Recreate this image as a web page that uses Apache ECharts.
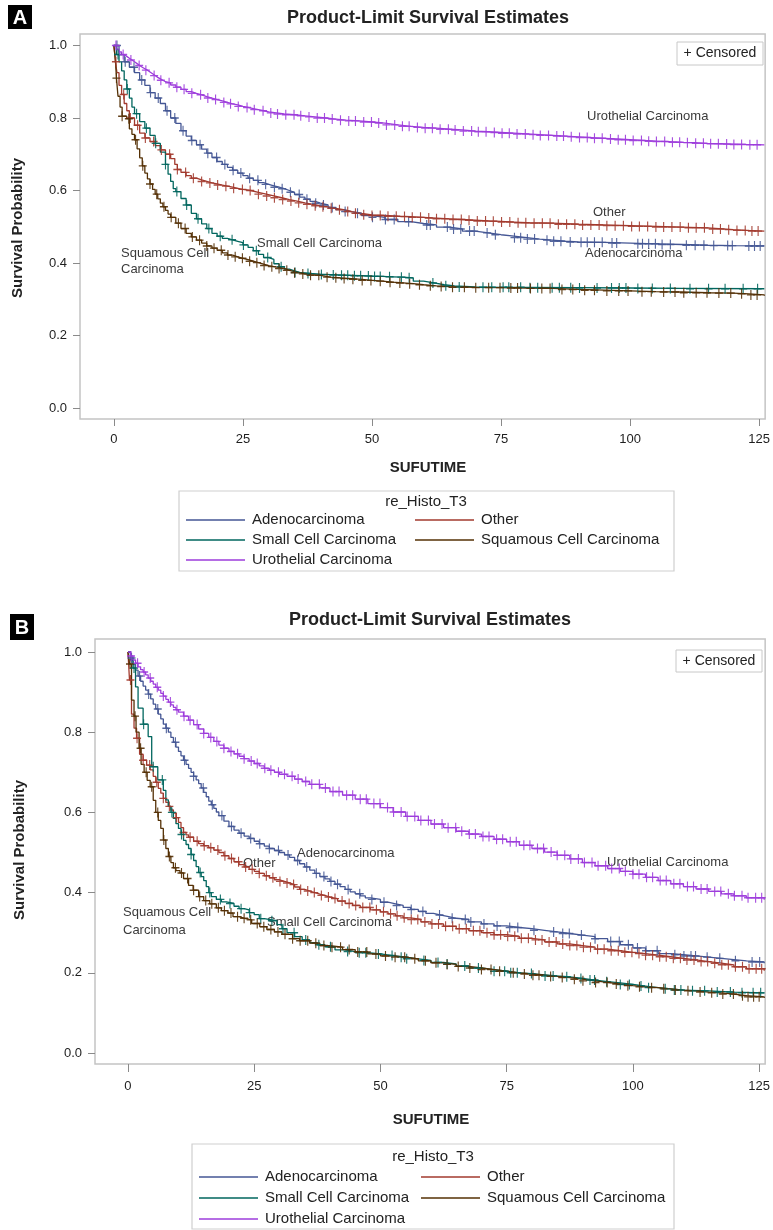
<!DOCTYPE html>
<html><head><meta charset="utf-8">
<script src="https://cdn.jsdelivr.net/npm/echarts@6/dist/echarts.min.js"></script>
<style>html,body{margin:0;padding:0;background:#fff}#c{width:773px;height:1230px}</style>
</head><body><div id="c"></div>
<script>
// ---------- data ----------
const groups = ['Adenocarcinoma','Other','Small Cell Carcinoma','Squamous Cell Carcinoma','Urothelial Carcinoma'];
const xTicks = [0,25,50,75,100,125];
const yTicks = [0,0.2,0.4,0.6,0.8,1.0];
const panelTitle = 'Product-Limit Survival Estimates';
const xTitle = 'SUFUTIME';
const yTitle = 'Survival Probability';
const legendTitle = 're_Histo_T3';

// Panel A: Kaplan-Meier steps [time, survival]
const adenoA = [[0,1],[1,0.975],[2,0.955],[3,0.94],[4,0.925],[5,0.905],[6,0.89],[7,0.87],[8,0.855],[9,0.84],[10,0.82],[11,0.80],[12,0.785],[13,0.765],[14,0.75],[15,0.738],[16,0.726],[17,0.714],[18,0.703],[19,0.691],[20,0.68],[21,0.672],[22,0.664],[23,0.656],[24,0.648],[25,0.641],[26,0.634],[27,0.628],[28,0.622],[29,0.617],[30,0.613],[31,0.609],[32,0.605],[33,0.6],[34,0.595],[35,0.589],[36,0.582],[37,0.576],[38,0.57],[39,0.565],[40,0.56],[41.5,0.553],[43,0.547],[44.5,0.542],[46,0.537],[48,0.531],[50,0.526],[52.5,0.52],[55,0.514],[57.5,0.509],[60,0.505],[62.5,0.499],[65,0.494],[67.5,0.488],[70,0.483],[72.5,0.478],[75,0.474],[77.5,0.47],[80,0.466],[82.5,0.463],[85,0.46],[87.5,0.458],[90,0.457],[95,0.455],[100,0.453],[105,0.451],[110,0.449],[115,0.448],[120,0.447],[126,0.447]];
const otherA = [[0,1],[0.3,0.955],[0.6,0.925],[1,0.89],[1.5,0.865],[2,0.84],[2.5,0.82],[3,0.80],[4,0.78],[5,0.758],[6,0.745],[7,0.735],[8,0.724],[9,0.712],[10,0.70],[11,0.688],[11.8,0.672],[12.3,0.658],[13,0.65],[14,0.641],[15,0.634],[16,0.629],[17,0.625],[18,0.621],[19,0.618],[20,0.615],[21,0.612],[22,0.609],[23,0.606],[24,0.603],[25,0.6],[26.5,0.595],[28,0.59],[29.5,0.585],[31,0.58],[32.5,0.575],[34,0.571],[35.5,0.566],[37,0.562],[38.5,0.558],[40,0.555],[41.5,0.551],[43,0.547],[44.5,0.542],[46,0.537],[48,0.533],[50,0.531],[52.5,0.529],[55,0.528],[57.5,0.526],[60,0.524],[62.5,0.522],[65,0.52],[67.5,0.518],[70,0.516],[72.5,0.515],[75,0.513],[77.5,0.511],[80,0.51],[85,0.507],[90,0.505],[95,0.503],[100,0.501],[105,0.499],[110,0.497],[115,0.494],[118,0.492],[120,0.49],[122.5,0.488],[126,0.487]];
const smallA = [[0,1],[0.5,0.975],[1,0.955],[1.5,0.93],[2,0.905],[2.5,0.88],[3,0.855],[3.5,0.83],[4,0.812],[5,0.79],[6,0.772],[7,0.752],[8,0.73],[9,0.706],[10,0.672],[10.5,0.645],[11,0.625],[11.5,0.605],[12,0.597],[13,0.578],[14,0.56],[15,0.537],[16,0.522],[17,0.508],[18,0.495],[19,0.482],[20,0.474],[21,0.468],[22,0.464],[23,0.46],[24,0.456],[25,0.45],[26,0.443],[27,0.434],[28,0.424],[29,0.415],[30,0.41],[31,0.398],[32,0.39],[33,0.383],[34,0.378],[35,0.374],[36,0.371],[38,0.369],[40,0.368],[42,0.367],[44,0.366],[46,0.365],[48,0.364],[50,0.363],[52,0.362],[54,0.361],[56,0.359],[58,0.35],[60,0.345],[62,0.34],[64,0.337],[66,0.334],[70,0.333],[75,0.333],[80,0.332],[90,0.331],[100,0.33],[110,0.329],[126,0.328]];
const squamA = [[0,1],[0.3,0.96],[0.5,0.91],[0.8,0.86],[1.2,0.83],[1.6,0.805],[2.5,0.798],[3,0.77],[3.5,0.755],[4,0.74],[4.5,0.715],[5,0.69],[5.5,0.668],[6,0.648],[6.5,0.632],[7,0.618],[7.5,0.603],[8,0.59],[8.5,0.577],[9,0.565],[9.5,0.555],[10,0.545],[10.5,0.535],[11,0.526],[12,0.51],[13,0.495],[14,0.482],[15,0.472],[16,0.463],[17,0.455],[18,0.447],[19,0.441],[20,0.435],[21,0.428],[22,0.422],[23,0.417],[24,0.413],[25,0.409],[26,0.405],[27,0.401],[28,0.397],[29,0.393],[30,0.39],[31,0.388],[32,0.385],[33,0.38],[34,0.376],[35,0.373],[36,0.37],[37,0.368],[38,0.366],[40,0.361],[42,0.359],[44,0.357],[46,0.355],[48,0.352],[50,0.35],[52,0.347],[54,0.345],[56,0.343],[58,0.34],[60,0.337],[62.5,0.335],[65,0.333],[70,0.332],[75,0.331],[80,0.33],[85,0.327],[90,0.325],[95,0.323],[100,0.321],[105,0.32],[110,0.318],[115,0.317],[120,0.315],[123,0.312],[126,0.31]];
const uroA = [[0,1],[0.5,0.99],[1,0.982],[1.5,0.975],[2,0.97],[2.5,0.965],[3,0.96],[3.5,0.955],[4,0.95],[4.5,0.945],[5,0.94],[5.5,0.936],[6,0.932],[6.5,0.927],[7,0.922],[7.5,0.917],[8,0.912],[8.5,0.908],[9,0.904],[9.5,0.9],[10,0.897],[11,0.891],[12,0.885],[13,0.879],[14,0.873],[15,0.868],[16,0.864],[17,0.859],[18,0.855],[19,0.851],[20,0.847],[21,0.843],[22,0.839],[23,0.836],[24,0.832],[25,0.829],[26,0.826],[27,0.823],[28,0.82],[29,0.817],[30,0.814],[31.5,0.811],[33,0.809],[35,0.806],[37,0.803],[39,0.8],[41,0.797],[43,0.794],[45,0.792],[47.5,0.789],[50,0.786],[52.5,0.781],[55,0.777],[57.5,0.774],[60,0.772],[62.5,0.769],[65,0.767],[67.5,0.764],[70,0.762],[72.5,0.76],[75,0.758],[77.5,0.756],[80,0.754],[82.5,0.752],[85,0.75],[87.5,0.748],[90,0.746],[92.5,0.744],[95,0.742],[97.5,0.74],[100,0.738],[102.5,0.736],[105,0.735],[107.5,0.733],[110,0.732],[112.5,0.73],[115,0.729],[117.5,0.728],[120,0.727],[122.5,0.726],[126,0.725]];

// Panel A censoring times
const censAdenoA = [0.6,2.2,3.9,5.4,7.1,8.6,10.3,11.8,13.4,15.1,16.7,18.2,19.9,21.5,23.1,24.6,26.3,27.9,29.4,31.1,32.6,34.2,35.9,37.4,39.1,40.6,42.3,44.8,47.2,50.1,52.6,54.3,57.1,60.6,61.3,64.6,65.8,67.2,68.9,69.8,72.3,73.9,77.6,78.8,80.1,81.5,83.9,85.2,86.6,88.4,90.5,91.7,93.1,94.6,96.5,97.4,101.5,102.4,103.6,104.9,106.2,107.8,110.9,112.6,114.3,116.2,118.9,119.8,123.0,124.1,125.2];
const censOtherA = [0.4,1.9,3.2,4.6,6.1,7.7,9.2,10.8,12.3,13.9,15.4,17.0,18.6,20.1,21.7,23.2,24.9,26.4,28.0,29.6,31.1,32.7,34.3,35.8,37.4,39.0,40.5,42.1,43.7,45.3,46.8,48.4,50.0,51.6,53.1,54.7,56.3,57.8,59.4,61.0,62.5,64.1,65.7,67.3,68.8,70.4,72.0,73.5,75.1,76.7,78.3,79.8,81.4,83.0,84.5,86.1,87.7,89.3,90.8,92.4,94.0,95.5,97.1,98.7,100.3,101.8,103.4,105.0,106.5,108.1,109.7,111.3,112.8,114.4,116.0,117.5,119.1,120.7,122.3,123.6,124.8];
const censSmallA = [0.8,2.6,4.4,6.3,8.1,10.0,12.2,14.1,16.3,18.4,20.6,22.9,25.1,27.6,29.8,32.4,35.1,37.6,40.2,42.5,44.1,45.3,46.6,47.8,49.3,50.5,51.6,53.4,55.7,57.2,61.8,64.3,66.9,71.5,73.2,75.4,76.5,78.8,80.6,82.1,84.9,86.3,88.5,90.2,93.6,96.4,97.9,99.2,101.5,104.3,107.8,111.6,115.2,118.4,121.9,124.7];
const censSquamA = [0.5,1.6,2.9,4.2,5.6,7.0,8.3,9.7,11.1,12.5,13.8,15.2,16.6,18.0,19.4,20.8,22.1,23.5,24.9,26.3,27.7,29.1,30.6,32.0,33.5,35.0,36.6,38.1,39.7,41.3,43.0,44.6,46.3,48.1,49.8,51.6,53.5,55.4,57.3,59.2,61.3,63.4,65.6,67.9,70.1,72.6,74.8,76.9,78.2,80.7,82.9,84.5,86.8,88.9,91.2,93.1,95.5,97.8,99.6,102.3,104.1,106.5,108.7,110.4,112.8,114.9,117.2,119.5,121.6,123.4,124.6];
const censUroA = [0.4,1.8,3.3,4.9,6.2,7.8,9.1,10.7,12.2,13.6,15.1,16.8,18.2,19.7,21.3,22.6,24.1,25.8,27.2,28.9,30.4,31.7,33.3,34.9,36.2,37.8,39.4,40.8,42.3,43.9,45.5,46.8,48.4,49.9,51.3,52.8,54.4,55.9,57.2,58.8,60.3,61.7,63.2,64.8,66.1,67.7,69.3,70.6,72.1,73.7,75.2,76.6,78.1,79.7,81.2,82.6,84.2,85.8,87.1,88.6,90.2,91.7,93.1,94.6,96.2,97.7,99.1,100.6,102.2,103.6,105.1,106.7,108.2,109.6,111.1,112.7,114.2,115.6,117.1,118.7,120.1,121.6,123.2,124.6];

// Panel B: Kaplan-Meier steps [time, survival]
const adenoB = [[0,1],[0.5,0.985],[1,0.97],[1.5,0.955],[2,0.94],[2.5,0.927],[3,0.915],[3.5,0.905],[4,0.895],[4.5,0.883],[5,0.87],[5.5,0.858],[6,0.845],[6.5,0.833],[7,0.82],[7.5,0.81],[8,0.8],[8.5,0.787],[9,0.775],[9.5,0.763],[10,0.752],[10.5,0.741],[11,0.73],[11.5,0.72],[12,0.71],[12.5,0.7],[13,0.69],[13.5,0.681],[14,0.672],[14.5,0.661],[15,0.65],[15.5,0.639],[16,0.628],[16.5,0.619],[17,0.61],[17.5,0.601],[18,0.592],[19,0.578],[20,0.565],[21,0.556],[22,0.548],[23,0.541],[24,0.535],[25,0.528],[26,0.522],[27,0.516],[28,0.51],[29,0.505],[30,0.5],[31,0.494],[32,0.488],[33,0.48],[34,0.472],[35,0.464],[36,0.456],[37,0.448],[38,0.44],[39,0.434],[40,0.428],[41,0.421],[42,0.415],[43,0.408],[44,0.402],[45,0.397],[46,0.392],[47,0.387],[48,0.383],[50,0.376],[51.5,0.372],[53,0.368],[54.5,0.363],[56,0.358],[57.5,0.353],[59,0.348],[60.5,0.344],[62,0.34],[63.5,0.336],[65,0.333],[67.5,0.327],[70,0.322],[72.5,0.317],[75,0.313],[77.5,0.31],[80,0.306],[82.5,0.302],[85,0.298],[87.5,0.294],[90,0.29],[92.5,0.285],[95,0.278],[97.5,0.27],[100,0.262],[102.5,0.255],[105,0.248],[107.5,0.245],[110,0.242],[112.5,0.239],[115,0.236],[117.5,0.233],[120,0.23],[122.5,0.227],[126,0.224]];
const otherB = [[0,1],[0.3,0.93],[0.7,0.845],[1.2,0.81],[1.7,0.785],[2.3,0.745],[3,0.73],[3.7,0.718],[4.4,0.706],[5,0.69],[5.5,0.675],[6,0.66],[6.5,0.648],[7,0.635],[7.5,0.625],[8,0.615],[8.5,0.606],[9,0.598],[9.5,0.587],[10,0.575],[10.5,0.562],[11,0.55],[11.5,0.544],[12,0.538],[13,0.528],[14,0.522],[15,0.517],[16,0.512],[17,0.506],[18,0.5],[19,0.492],[20,0.485],[21,0.477],[22,0.47],[23,0.464],[24,0.458],[25,0.453],[26,0.448],[27,0.442],[28,0.437],[29,0.432],[30,0.428],[31,0.424],[32,0.42],[33,0.414],[34,0.408],[35,0.404],[36,0.4],[37,0.396],[38,0.393],[39,0.389],[40,0.385],[41.5,0.379],[43,0.373],[44.5,0.368],[46,0.363],[48,0.357],[50,0.352],[51.5,0.347],[53,0.342],[54.5,0.337],[56,0.333],[58,0.327],[60,0.322],[62.5,0.316],[65,0.31],[67.5,0.305],[70,0.3],[72.5,0.295],[75,0.291],[77.5,0.286],[80,0.282],[82.5,0.277],[85,0.272],[87.5,0.268],[90,0.264],[92.5,0.259],[95,0.255],[97.5,0.251],[100,0.248],[102.5,0.244],[105,0.24],[107.5,0.236],[110,0.232],[112.5,0.228],[115,0.224],[117.5,0.22],[120,0.215],[122.5,0.21],[126,0.205]];
const smallB = [[0,1],[0.5,0.98],[1,0.96],[1.5,0.913],[2,0.86],[3,0.82],[4,0.789],[4.7,0.714],[5.9,0.681],[7,0.655],[7.5,0.631],[8,0.615],[8.5,0.6],[9,0.585],[9.5,0.572],[10,0.56],[10.5,0.545],[11,0.53],[11.5,0.52],[12,0.51],[12.5,0.495],[13,0.48],[13.5,0.465],[14,0.45],[14.5,0.44],[15,0.43],[15.5,0.415],[16,0.4],[16.5,0.39],[17.5,0.383],[18.5,0.377],[19.5,0.373],[21,0.366],[22,0.36],[23,0.357],[24,0.35],[25,0.345],[26,0.335],[27,0.332],[28.5,0.33],[29.5,0.32],[30.5,0.31],[31.5,0.3],[33,0.29],[34.5,0.282],[36,0.275],[37.5,0.27],[39,0.265],[41,0.257],[43,0.253],[45,0.25],[47.5,0.247],[50,0.243],[52.5,0.239],[55,0.235],[57.5,0.231],[60,0.226],[62.5,0.222],[65,0.217],[67.5,0.212],[70,0.208],[72.5,0.204],[75,0.2],[77.5,0.198],[80,0.195],[82.5,0.192],[85,0.19],[87.5,0.186],[90,0.182],[92.5,0.178],[95,0.175],[97.5,0.171],[100,0.167],[102.5,0.163],[105,0.16],[107.5,0.157],[110,0.155],[115,0.152],[120,0.15],[126,0.15]];
const squamB = [[0,1],[0.3,0.97],[0.7,0.88],[1.2,0.84],[1.6,0.8],[2.2,0.76],[2.6,0.72],[3.2,0.7],[3.8,0.68],[4.4,0.664],[5,0.63],[5.5,0.6],[6,0.58],[6.5,0.56],[7,0.531],[7.5,0.51],[8,0.49],[8.5,0.475],[9,0.462],[9.5,0.455],[10.3,0.449],[11,0.435],[12,0.418],[12.9,0.406],[14,0.39],[15,0.38],[16.2,0.372],[17.5,0.362],[18.5,0.355],[19.8,0.349],[20.8,0.34],[22,0.336],[23.1,0.332],[24.5,0.323],[26.1,0.315],[27.5,0.308],[29,0.302],[30.5,0.296],[32.6,0.285],[34,0.28],[36,0.274],[38,0.268],[40,0.264],[42.5,0.258],[45,0.252],[47.5,0.247],[50,0.242],[52.5,0.239],[55,0.235],[57.5,0.23],[60,0.225],[62.5,0.221],[65,0.216],[67.5,0.212],[70,0.208],[72.5,0.204],[75,0.2],[77.5,0.197],[80,0.194],[82.5,0.191],[85,0.188],[87.5,0.184],[90,0.18],[92.5,0.176],[95,0.172],[97.5,0.168],[100,0.165],[102.5,0.163],[105,0.16],[107.5,0.157],[110,0.155],[112.5,0.152],[115,0.15],[117.5,0.147],[120,0.143],[122.5,0.14],[126,0.137]];
const uroB = [[0,1],[0.5,0.99],[1,0.98],[1.5,0.972],[2,0.963],[2.5,0.956],[3,0.95],[3.5,0.943],[4,0.935],[4.5,0.927],[5,0.92],[5.5,0.912],[6,0.905],[6.5,0.897],[7,0.89],[7.5,0.882],[8,0.875],[8.5,0.868],[9,0.862],[9.5,0.856],[10,0.85],[11,0.84],[12,0.83],[13,0.819],[14,0.808],[15,0.797],[16,0.787],[17,0.777],[18,0.768],[19,0.76],[20,0.752],[21,0.746],[22,0.74],[23,0.734],[24,0.728],[25,0.722],[26,0.716],[27,0.71],[28,0.705],[29,0.7],[30,0.695],[31.5,0.69],[33,0.683],[34.5,0.677],[36,0.67],[38,0.661],[40,0.652],[42.5,0.643],[45,0.633],[47.5,0.622],[50,0.612],[52.5,0.601],[55,0.59],[57.5,0.58],[60,0.571],[62.5,0.562],[65,0.553],[67.5,0.546],[70,0.54],[72.5,0.533],[75,0.527],[77.5,0.518],[80,0.51],[82.5,0.501],[85,0.493],[87.5,0.484],[90,0.475],[92.5,0.467],[95,0.46],[97.5,0.453],[100,0.446],[102.5,0.438],[105,0.43],[107.5,0.422],[110,0.415],[112.5,0.409],[115,0.403],[117.5,0.397],[120,0.392],[122.5,0.387],[126,0.382]];

// Panel B censoring times
const censAdenoB = [0.7,2.3,4.1,5.9,7.6,9.4,11.2,13.0,14.9,16.7,18.6,20.5,22.4,24.3,26.1,28.0,29.8,31.7,33.6,35.4,37.3,38.8,40.2,41.5,43.6,45.9,48.3,50.7,53.2,56.1,58.4,61.7,64.2,66.8,67.9,70.5,73.1,75.6,77.2,80.4,84.3,86.1,87.4,89.8,92.5,95.6,97.3,99.1,100.9,102.6,104.8,108.3,110.1,111.5,112.4,114.7,117.2,120.3,123.6,125.1];
const censOtherB = [0.5,1.8,3.0,4.3,5.7,7.0,8.2,9.6,11.0,12.3,13.7,15.1,16.4,17.8,19.2,20.5,21.9,23.3,24.6,26.0,27.4,28.7,30.1,31.5,32.8,34.2,35.6,36.9,38.3,39.7,41.0,42.4,43.8,45.1,46.5,47.9,49.2,50.6,52.0,53.3,54.7,56.1,57.4,58.8,60.2,61.5,62.9,64.3,65.6,67.0,68.4,69.7,71.1,72.5,73.8,75.2,76.6,77.9,79.3,80.7,82.0,83.4,84.8,86.1,87.5,88.9,90.2,91.6,93.0,94.3,95.7,97.1,98.4,99.8,101.2,102.5,103.9,105.3,106.6,108.0,109.4,110.7,112.1,113.5,114.8,116.2,117.6,118.9,120.3,121.7,123.0,124.4,125.5];
const censSmallB = [1.2,3.1,5.0,6.8,8.7,10.6,12.5,14.3,16.2,18.3,20.2,22.4,24.1,26.3,28.5,30.7,32.9,35.2,37.8,40.1,43.5,45.8,47.1,49.6,52.3,54.1,55.2,58.6,61.4,63.2,66.7,69.4,72.5,74.6,75.8,77.1,79.9,82.6,84.2,86.9,89.7,91.5,92.4,94.8,97.5,99.3,101.6,103.1,106.4,108.2,109.5,111.8,114.2,116.7,119.3,121.6,123.8,125.3];
const censSquamB = [0.4,1.4,2.5,3.6,4.7,5.9,7.1,8.2,9.4,10.6,11.8,13.0,14.2,15.4,16.6,17.9,19.1,20.4,21.7,23.0,24.3,25.6,26.9,28.3,29.7,31.1,32.6,34.1,35.6,37.2,38.8,40.4,42.1,43.8,45.5,47.3,49.1,51.0,52.9,54.8,56.8,58.9,61.0,63.2,65.4,67.7,70.0,71.9,73.6,76.3,78.5,80.2,81.4,83.7,86.0,88.4,90.1,92.6,94.9,96.7,99.0,101.3,103.7,106.1,108.4,110.9,113.3,115.6,117.8,119.9,121.7,122.8,123.9,125.0];
const censUroB = [0.6,1.9,3.2,4.4,5.8,7.0,8.4,9.7,11.1,12.3,13.7,15.0,16.4,17.6,19.0,20.4,21.7,23.0,24.4,25.6,27.1,28.3,29.8,31.0,32.5,33.7,35.2,36.4,37.9,39.1,40.6,41.8,43.3,44.5,46.0,47.2,48.7,49.9,51.4,52.6,54.1,55.3,56.8,58.0,59.5,60.7,62.2,63.4,64.9,66.1,67.6,68.8,70.3,71.5,73.0,74.2,75.7,76.9,78.4,79.6,81.1,82.3,83.8,85.0,86.5,87.7,89.2,90.4,91.9,93.1,94.6,95.8,97.3,98.5,100.0,101.2,102.7,103.9,105.4,106.6,108.1,109.3,110.8,112.0,113.5,114.7,116.2,117.4,118.9,120.1,121.6,122.8,124.3,125.5];

// ---------- styling / layout ----------
const colors = ['#445694','#A23A2E','#01665E','#543005','#9D3CDB'];
const FONT = '"Liberation Sans", Arial, sans-serif';
const PLUS = 'path://M4.3,0 H5.7 V4.3 H10 V5.7 H5.7 V10 H4.3 V5.7 H0 V4.3 H4.3 Z';

const panels = [
  { curves:[adenoA,otherA,smallA,squamA,uroA], cens:[censAdenoA,censOtherA,censSmallA,censSquamA,censUroA],
    grid:{left:80,top:34,width:688,height:385}, xMin:-6.56, xMax:126.16, yMin:-0.0303, yMax:1.0317,
    xLabelMargin:14, tickLen:7 },
  { curves:[adenoB,otherB,smallB,squamB,uroB], cens:[censAdenoB,censOtherB,censSmallB,censSquamB,censUroB],
    grid:{left:95,top:639,width:671,height:425}, xMin:-6.53, xMax:126.19, yMin:-0.0274, yMax:1.0324,
    xLabelMargin:16, tickLen:8 }
];

function stepAt(curve, t){
  let s = curve[0][1];
  for (const p of curve){ if (p[0] <= t) s = p[1]; else break; }
  return s;
}

const grids = [], xAxes = [], yAxes = [], series = [];
panels.forEach((p, pi) => {
  grids.push(Object.assign({show:true, borderColor:'#c4c4c4', borderWidth:1.5, backgroundColor:'#fff'}, p.grid));
  xAxes.push({type:'value', gridIndex:pi, min:p.xMin, max:p.xMax, position:'bottom',
    axisLine:{show:false, onZero:false}, splitLine:{show:false},
    axisTick:{show:true, inside:false, length:p.tickLen, customValues:xTicks, lineStyle:{color:'#8a8a8a'}},
    axisLabel:{customValues:xTicks, color:'#1e1e1e', fontSize:13, fontFamily:FONT, margin:p.xLabelMargin}});
  yAxes.push({type:'value', gridIndex:pi, min:p.yMin, max:p.yMax, position:'left',
    axisLine:{show:false, onZero:false}, splitLine:{show:false},
    axisTick:{show:true, inside:false, length:7, customValues:yTicks, lineStyle:{color:'#8a8a8a'}},
    axisLabel:{customValues:yTicks, color:'#1e1e1e', fontSize:13, fontFamily:FONT, margin:13,
      formatter:v => v.toFixed(1)}});
  groups.forEach((g, gi) => {
    series.push({type:'line', name:g, xAxisIndex:pi, yAxisIndex:pi, data:p.curves[gi], step:'end',
      showSymbol:false, symbol:'none', silent:true, color:colors[gi],
      lineStyle:{width:1.3, color:colors[gi]}, emphasis:{disabled:true}, z:2});
    series.push({type:'scatter', name:g, xAxisIndex:pi, yAxisIndex:pi,
      data:p.cens[gi].map(t => [t, stepAt(p.curves[gi], t)]),
      symbol:PLUS, symbolSize:[8,10], silent:true, color:colors[gi],
      itemStyle:{color:colors[gi], opacity:0.9}, emphasis:{disabled:true}, z:3});
  });
});

function legendCol(names, left, top, lh){
  return {data:names, orient:'vertical', left:left, top:top, padding:0, itemGap:0,
    icon:'rect', itemWidth:59, itemHeight:1.6, selectedMode:false,
    textStyle:{fontFamily:FONT, fontSize:15, color:'#222', lineHeight:lh, padding:[0,0,0,2]}};
}
const legends = [
  legendCol([groups[0],groups[2],groups[4]], 186, 510, 20),
  legendCol([groups[1],groups[3]], 415, 510, 20),
  legendCol([groups[0],groups[2],groups[4]], 199, 1166.5, 21),
  legendCol([groups[1],groups[3]], 421, 1166.5, 21)
];

function txt(x, y, s, o, rot){
  const el = {type:'text', x:x, y:y, silent:true, style:Object.assign({text:s, fill:'#222', fontFamily:FONT, fontSize:13,
    textAlign:'left', textVerticalAlign:'middle'}, o||{})};
  if (rot) el.rotation = rot;
  return el;
}
function panelLabel(x, y, w, h, s){
  return [{type:'rect', shape:{x:x, y:y, width:w, height:h}, style:{fill:'#000'}, silent:true},
    txt(x+w/2, y+h/2+1, s, {fill:'#fff', fontSize:20, fontWeight:'bold', textAlign:'center'})];
}
function censBox(x, y, w, h){
  return [{type:'rect', shape:{x:x, y:y, width:w, height:h}, style:{fill:'#fff', stroke:'#c8c8c8', lineWidth:1}, silent:true, z:10},
    Object.assign(txt(x+w/2, y+h/2, '+ Censored', {fontSize:14, textAlign:'center'}), {z:11})];
}
const curveLbl = {fontSize:13, fill:'#3a3a3a'};
const graphics = [].concat(
  panelLabel(8, 5, 24, 24, 'A'),
  [txt(428, 18, panelTitle, {fontSize:18, fontWeight:'bold', textAlign:'center'})],
  censBox(677, 42, 86, 23),
  [txt(18, 228, yTitle, {fontSize:15, fontWeight:'bold', textAlign:'center'}, Math.PI/2)],
  [txt(428, 468, xTitle, {fontSize:15, fontWeight:'bold', textAlign:'center'})],
  [{type:'rect', shape:{x:179, y:491, width:495, height:80}, style:{fill:'none', stroke:'#cfcfcf', lineWidth:1.2}, silent:true}],
  [txt(426, 502, legendTitle, {fontSize:15, textAlign:'center'})],
  [txt(587, 116, 'Urothelial Carcinoma', curveLbl), txt(593, 212, 'Other', curveLbl),
   txt(585, 253, 'Adenocarcinoma', curveLbl), txt(257, 243, 'Small Cell Carcinoma', curveLbl),
   txt(121, 253, 'Squamous Cell', curveLbl), txt(121, 269, 'Carcinoma', curveLbl)],

  panelLabel(10, 614, 24, 26, 'B'),
  [txt(430, 620, panelTitle, {fontSize:18, fontWeight:'bold', textAlign:'center'})],
  censBox(676, 650, 86, 22),
  [txt(20, 850, yTitle, {fontSize:15, fontWeight:'bold', textAlign:'center'}, Math.PI/2)],
  [txt(431, 1120, xTitle, {fontSize:15, fontWeight:'bold', textAlign:'center'})],
  [{type:'rect', shape:{x:192, y:1144, width:482, height:85}, style:{fill:'none', stroke:'#cfcfcf', lineWidth:1.2}, silent:true}],
  [txt(433, 1157, legendTitle, {fontSize:15, textAlign:'center'})],
  [txt(607, 862, 'Urothelial Carcinoma', curveLbl), txt(297, 853, 'Adenocarcinoma', curveLbl),
   txt(243, 863, 'Other', curveLbl), txt(267, 922, 'Small Cell Carcinoma', curveLbl),
   txt(123, 912, 'Squamous Cell', curveLbl), txt(123, 930, 'Carcinoma', curveLbl)]
);

const chart = echarts.init(document.getElementById('c'), null, {renderer:'canvas'});
chart.setOption({
  animation:false,
  backgroundColor:'#fff',
  grid:grids, xAxis:xAxes, yAxis:yAxes,
  legend:legends,
  series:series,
  graphic:{elements:graphics}
});
</script>
</body></html>
